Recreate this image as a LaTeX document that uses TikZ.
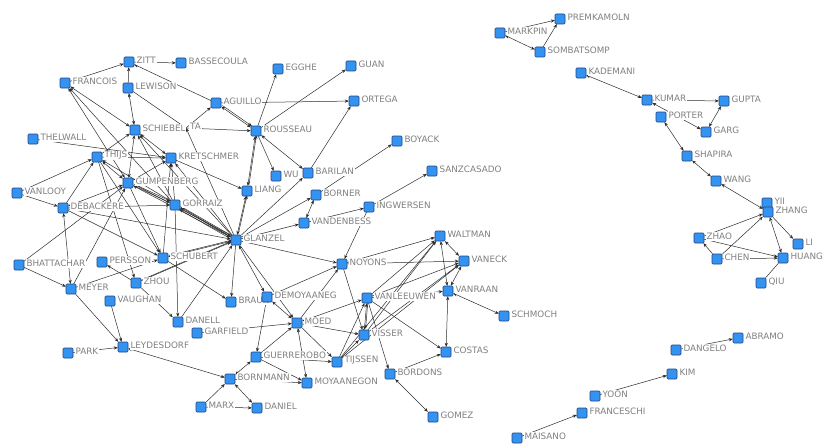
\documentclass[tikz,border=0pt]{standalone}
\usepackage{fontspec}
\setmainfont{DejaVu Sans}
\usetikzlibrary{arrows.meta}
\definecolor{sqfill}{RGB}{52,146,240}
\definecolor{sqdraw}{RGB}{30,72,130}
\definecolor{lblgray}{RGB}{128,128,128}
\definecolor{edgec}{RGB}{45,45,45}
\newcommand\nd[4]{\node[sq] (#1) at (#2,#3) {};\node[lbl] at (#1.east) {#4};}
\begin{document}
\begin{tikzpicture}[x=1pt,y=-1pt,
  sq/.style={draw=sqdraw,fill=sqfill,line width=0.6pt,rounded corners=1pt,minimum size=10pt,inner sep=0pt},
  lbl/.style={anchor=west,text=lblgray,font=\fontsize{8.8}{9}\selectfont,fill=white,inner sep=0.8pt,xshift=1.2pt,yshift=1.5pt},
  ed/.style={draw=edgec,line width=0.5pt},
  ar/.style={ed,-{Stealth[length=4pt,width=3.2pt]}},
  bi/.style={ed,{Stealth[length=4pt,width=3.2pt]}-{Stealth[length=4pt,width=3.2pt]}},
  dbl/.style={transform canvas={shift={(1.2pt,1.2pt)}}}
]
\path[use as bounding box,fill=white] (0,0) rectangle (827,444);
% ---- coordinates (for edges) ----
\coordinate (zitt) at (129,62);
\coordinate (ta) at (186,128);
% nodes placed first as invisible anchors via a scope
\begin{scope}[every node/.style={minimum size=10pt,inner sep=0pt}]
\foreach \n/\x/\y in {zitt/129/62,bassecoula/181/63,francois/65/83,lewison/128/88,aguillo/216/103,schiebel/135/130,thelwall/33/139,thijs/97/157,kretschmer/171/158,gumpenberg/128/183,vanlooy/17/193,rousseau/256/131,egghe/278/69,guan/351/66,ortega/354/101,boyack/397/141,sanzcasado/432/171,wu/276/176,barilan/308/173,liang/247/191,borner/316/195,ingwersen/369/207,vandenbess/304/223,glanzel/236/240,gorraiz/175/205,debackere/63/208,bhattachar/19/265,persson/102/262,schubert/163/258,meyer/71/289,zhou/136/283,vaughan/110/301,braun/231/302,demoyaaneg/267/297,noyons/342/264,waltman/440/236,vaneck/464/261,vanraan/448/291,vanleeuwen/367/298,schmoch/504/316,danell/178/322,garfield/197/333,leydesdorf/123/347,park/68/353,moed/297/323,visser/364/335,guerrerobo/256/357,tijssen/337/362,costas/446/352,bornmann/230/379,moyaanegon/307/383,bordons/390/374,marx/201/407,daniel/257/408,gomez/433/417,premkamoln/560/19,markpin/500/33,sombatsomp/540/52,kademani/581/73,kumar/647/100,gupta/724/101,porter/661/117,garg/706/132,shapira/687/156,wang/716/181,yii/767/203,zhang/768/212,zhao/699/238,li/798/244,chen/717/259,huang/783/258,qiu/761/283,abramo/738/338,dangelo/676/350,kim/672/374,yoon/595/396,franceschi/582/413,maisano/517/438}
  \node (\n) at (\x,\y) {};
\end{scope}
% ---- edges ----
\draw[ar] (zitt) -- (bassecoula);
\draw[ar] (francois) -- (zitt);
\draw[ar] (lewison) -- (zitt);
\draw[ar] (aguillo) -- (zitt);
\draw[bi] (lewison) -- (schiebel);
\draw[bi] (francois) -- (schiebel);
\draw[bi] (francois) -- (gumpenberg);
\draw[ar] (gorraiz) -- (francois);
\draw[ed] (lewison) -- (ta);
\draw[ar] (ta) -- (rousseau);
\draw[ar] (ta) -- (aguillo);
\draw[ar] (glanzel) -- (ta);
\draw[ar] (thelwall) -- (kretschmer);
\draw[ar] (thijs) -- (schiebel);
\draw[ar] (thijs) -- (kretschmer);
\draw[bi] (thijs) -- (gumpenberg);
\draw[ar] (vanlooy) -- (thijs);
\draw[ar] (debackere) -- (thijs);
\draw[ar] (thijs) -- (zhou);
\draw[ar] (thijs) -- (schubert);
\draw[bi] (schiebel) -- (kretschmer);
\draw[bi] (schiebel) -- (gumpenberg);
\draw[ar] (gorraiz) -- (schiebel);
\draw[ar] (glanzel) -- (schiebel);
\draw[ar] (kretschmer) -- (liang);
\draw[ar] (gumpenberg) -- (kretschmer);
\draw[ar] (gorraiz) -- (kretschmer);
\draw[ar] (glanzel) -- (kretschmer);
\draw[ar] (schubert) -- (kretschmer);
\draw[bi] (aguillo) -- (rousseau);
\draw[ar,dbl] (aguillo) -- (rousseau);
\draw[ar] (rousseau) -- (egghe);
\draw[ar] (rousseau) -- (guan);
\draw[bi] (rousseau) -- (liang);
\draw[ar,dbl] (liang) -- (rousseau);
\draw[ar] (rousseau) -- (wu);
\draw[bi] (rousseau) -- (barilan);
\draw[ar] (aguillo) -- (ortega);
\draw[ar] (barilan) -- (ortega);
\draw[ar] (borner) -- (boyack);
\draw[ar] (ingwersen) -- (sanzcasado);
\draw[ar] (glanzel) -- (barilan);
\draw[ar] (glanzel) -- (borner);
\draw[ar] (glanzel) -- (vandenbess);
\draw[bi] (vandenbess) -- (borner);
\draw[ar] (vandenbess) -- (ingwersen);
\draw[ar] (ingwersen) -- (noyons);
\draw[ar] (glanzel) -- (noyons);
\draw[ar] (noyons) -- (vaneck);
\draw[ar] (noyons) -- (waltman);
\draw[ar] (noyons) -- (visser);
\draw[ar] (demoyaaneg) -- (noyons);
\draw[ar] (moed) -- (noyons);
\draw[bi] (waltman) -- (vaneck);
\draw[bi] (waltman) -- (vanraan);
\draw[bi] (vaneck) -- (vanraan);
\draw[bi] (vanraan) -- (costas);
\draw[bi] (vanraan) -- (schmoch);
\draw[ar] (vanleeuwen) -- (vanraan);
\draw[ar] (vanleeuwen) -- (waltman);
\draw[ar] (vanleeuwen) -- (vaneck);
\draw[ar] (visser) -- (waltman);
\draw[ar] (visser) -- (vaneck);
\draw[ar] (tijssen) -- (vaneck);
\draw[ar] (tijssen) -- (waltman);
\draw[bi] (vanleeuwen) -- (visser);
\draw[ar,dbl] (vanleeuwen) -- (visser);
\draw[bi] (moed) -- (vanleeuwen);
\draw[ar] (vanleeuwen) -- (costas);
\draw[ar] (vanleeuwen) -- (bordons);
\draw[ar] (tijssen) -- (vanleeuwen);
\draw[ar] (moed) -- (visser);
\draw[ar] (garfield) -- (moed);
\draw[bi] (demoyaaneg) -- (moed);
\draw[ar] (guerrerobo) -- (moed);
\draw[bi] (moed) -- (moyaanegon);
\draw[ar] (guerrerobo) -- (tijssen);
\draw[ar] (tijssen) -- (visser);
\draw[ar] (moed) -- (tijssen);
\draw[bi] (guerrerobo) -- (bornmann);
\draw[ar] (bornmann) -- (moyaanegon);
\draw[ar] (guerrerobo) -- (moyaanegon);
\draw[bi] (leydesdorf) -- (bornmann);
\draw[ar] (marx) -- (bornmann);
\draw[ar] (marx) -- (daniel);
\draw[bi] (bornmann) -- (daniel);
\draw[ar] (demoyaaneg) -- (guerrerobo);
\draw[bi] (bordons) -- (gomez);
\draw[ar] (bordons) -- (costas);
\draw[bi] (glanzel) -- (liang);
\draw[ar,dbl] (glanzel) -- (liang);
\draw[bi] (glanzel) -- (gorraiz);
\draw[ar,dbl] (glanzel) -- (gorraiz);
\draw[ar,transform canvas={shift={(-1.2pt,-1.2pt)}}] (glanzel) -- (gorraiz);
\draw[bi] (gumpenberg) -- (glanzel);
\draw[ar,dbl] (glanzel) -- (gumpenberg);
\draw[ar] (debackere) -- (glanzel);
\draw[ar] (glanzel) -- (thijs);
\draw[ar] (glanzel) -- (schubert);
\draw[ar,dbl] (schubert) -- (glanzel);
\draw[ar] (glanzel) -- (braun);
\draw[bi] (glanzel) -- (demoyaaneg);
\draw[ar] (glanzel) -- (moed);
\draw[ar] (danell) -- (glanzel);
\draw[ar] (vanlooy) -- (debackere);
\draw[ar] (debackere) -- (gorraiz);
\draw[bi] (debackere) -- (gumpenberg);
\draw[bi] (debackere) -- (meyer);
\draw[ar] (debackere) -- (schubert);
\draw[ar] (bhattachar) -- (meyer);
\draw[ar] (bhattachar) -- (gumpenberg);
\draw[ar] (meyer) -- (gumpenberg);
\draw[ar] (meyer) -- (schubert);
\draw[ar] (meyer) -- (leydesdorf);
\draw[ar] (zhou) -- (persson);
\draw[ar] (zhou) -- (glanzel);
\draw[ar,dbl] (zhou) -- (glanzel);
\draw[ar] (vaughan) -- (leydesdorf);
\draw[ar] (zhou) -- (danell);
\draw[ar] (gorraiz) -- (danell);
\draw[ar] (schubert) -- (braun);
\draw[ar] (gumpenberg) -- (schubert);
\draw[ar] (park) -- (leydesdorf);
\draw[ar] (gumpenberg) -- (gorraiz);
\draw[ar,dbl] (gumpenberg) -- (gorraiz);
% right clusters
\draw[ar] (markpin) -- (premkamoln);
\draw[bi] (markpin) -- (sombatsomp);
\draw[ar] (sombatsomp) -- (premkamoln);
\draw[bi] (kademani) -- (kumar);
\draw[ar] (kumar) -- (gupta);
\draw[bi] (kumar) -- (garg);
\draw[bi] (garg) -- (gupta);
\draw[bi] (porter) -- (shapira);
\draw[bi] (shapira) -- (wang);
\draw[bi] (wang) -- (zhang);
\draw[ar] (zhang) -- (li);
\draw[bi] (zhang) -- (huang);
\draw[ar] (zhao) -- (zhang);
\draw[ar] (chen) -- (zhang);
\draw[ar] (chen) -- (zhao);
\draw[ar] (zhao) -- (huang);
\draw[ar] (chen) -- (huang);
\draw[ed] (qiu) -- (huang);
\draw[ar] (dangelo) -- (abramo);
\draw[ar] (yoon) -- (kim);
\draw[ar] (maisano) -- (franceschi);
% ---- squares and labels ----
\node[lbl] at (188,128) {TA};
\nd{zitt}{129}{62}{ZITT}
\nd{bassecoula}{181}{63}{BASSECOULA}
\nd{francois}{65}{83}{FRANCOIS}
\nd{lewison}{128}{88}{LEWISON}
\nd{aguillo}{216}{103}{AGUILLO}
\nd{schiebel}{135}{130}{SCHIEBEL}
\nd{thelwall}{33}{139}{THELWALL}
\nd{thijs}{97}{157}{THIJS}
\nd{kretschmer}{171}{158}{KRETSCHMER}
\nd{gumpenberg}{128}{183}{GUMPENBERG}
\nd{vanlooy}{17}{193}{VANLOOY}
\nd{rousseau}{256}{131}{ROUSSEAU}
\nd{egghe}{278}{69}{EGGHE}
\nd{guan}{351}{66}{GUAN}
\nd{ortega}{354}{101}{ORTEGA}
\nd{boyack}{397}{141}{BOYACK}
\nd{sanzcasado}{432}{171}{SANZCASADO}
\nd{wu}{276}{176}{WU}
\nd{barilan}{308}{173}{BARILAN}
\nd{liang}{247}{191}{LIANG}
\nd{borner}{316}{195}{BORNER}
\nd{ingwersen}{369}{207}{INGWERSEN}
\nd{vandenbess}{304}{223}{VANDENBESS}
\nd{glanzel}{236}{240}{GLANZEL}
\nd{gorraiz}{175}{205}{GORRAIZ}
\nd{debackere}{63}{208}{DEBACKERE}
\nd{bhattachar}{19}{265}{BHATTACHAR}
\nd{persson}{102}{262}{PERSSON}
\nd{schubert}{163}{258}{SCHUBERT}
\nd{meyer}{71}{289}{MEYER}
\nd{zhou}{136}{283}{ZHOU}
\nd{vaughan}{110}{301}{VAUGHAN}
\nd{braun}{231}{302}{BRAUN}
\nd{demoyaaneg}{267}{297}{DEMOYAANEG}
\nd{noyons}{342}{264}{NOYONS}
\nd{waltman}{440}{236}{WALTMAN}
\nd{vaneck}{464}{261}{VANECK}
\nd{vanraan}{448}{291}{VANRAAN}
\nd{vanleeuwen}{367}{298}{VANLEEUWEN}
\nd{schmoch}{504}{316}{SCHMOCH}
\nd{danell}{178}{322}{DANELL}
\nd{garfield}{197}{333}{GARFIELD}
\nd{leydesdorf}{123}{347}{LEYDESDORF}
\nd{park}{68}{353}{PARK}
\nd{moed}{297}{323}{MOED}
\nd{visser}{364}{335}{VISSER}
\nd{guerrerobo}{256}{357}{GUERREROBO}
\nd{tijssen}{337}{362}{TIJSSEN}
\nd{costas}{446}{352}{COSTAS}
\nd{bornmann}{230}{379}{BORNMANN}
\nd{moyaanegon}{307}{383}{MOYAANEGON}
\nd{bordons}{390}{374}{BORDONS}
\nd{marx}{201}{407}{MARX}
\nd{daniel}{257}{408}{DANIEL}
\nd{gomez}{433}{417}{GOMEZ}
\nd{premkamoln}{560}{19}{PREMKAMOLN}
\nd{markpin}{500}{33}{MARKPIN}
\nd{sombatsomp}{540}{52}{SOMBATSOMP}
\nd{kademani}{581}{73}{KADEMANI}
\nd{kumar}{647}{100}{KUMAR}
\nd{gupta}{724}{101}{GUPTA}
\nd{porter}{661}{117}{PORTER}
\nd{garg}{706}{132}{GARG}
\nd{shapira}{687}{156}{SHAPIRA}
\nd{wang}{716}{181}{WANG}
\nd{yii}{767}{203}{YII}
\nd{zhang}{768}{212}{ZHANG}
\nd{zhao}{699}{238}{ZHAO}
\nd{li}{798}{244}{LI}
\nd{chen}{717}{259}{CHEN}
\nd{huang}{783}{258}{HUANG}
\nd{qiu}{761}{283}{QIU}
\nd{abramo}{738}{338}{ABRAMO}
\nd{dangelo}{676}{350}{DANGELO}
\nd{kim}{672}{374}{KIM}
\nd{yoon}{595}{396}{YOON}
\nd{franceschi}{582}{413}{FRANCESCHI}
\nd{maisano}{517}{438}{MAISANO}
\end{tikzpicture}
\end{document}
